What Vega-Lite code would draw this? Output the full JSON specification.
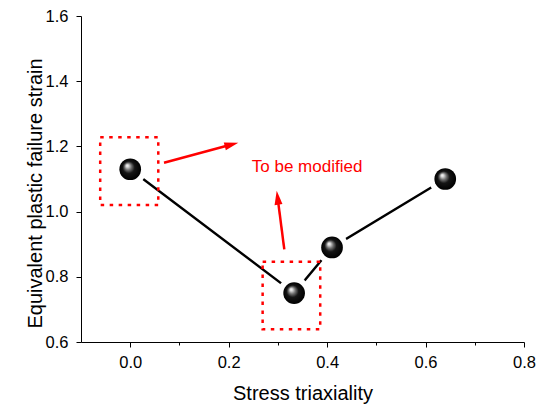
{
  "$schema": "https://vega.github.io/schema/vega-lite/v6.json",
  "width": 443,
  "height": 326,
  "autosize": "none",
  "padding": {"left": 81, "top": 16, "right": 19, "bottom": 64},
  "background": "white",
  "config": {
    "view": {"stroke": null},
    "axis": {
      "grid": false,
      "domainColor": "black",
      "tickColor": "black",
      "labelColor": "black",
      "titleColor": "black",
      "labelFont": "Liberation Sans",
      "titleFont": "Liberation Sans",
      "titleFontSize": 20,
      "titleFontWeight": "normal",
      "domainWidth": 1,
      "tickWidth": 1
    }
  },
  "datasets": {
    "points": [
      {"x": 0.0, "y": 1.13},
      {"x": 0.333, "y": 0.75},
      {"x": 0.41, "y": 0.89},
      {"x": 0.64, "y": 1.10}
    ],
    "boxes": [
      {"x": -0.061, "x2": 0.057, "y": 1.228, "y2": 1.02},
      {"x": 0.269, "x2": 0.386, "y": 0.846, "y2": 0.639}
    ],
    "arrows": [
      {"id": 1, "x": 0.0686, "y": 1.150, "xb": 0.204, "yb": 1.205, "xt": 0.2196, "yt": 1.211},
      {"id": 2, "x": 0.313, "y": 0.884, "xb": 0.2997, "yb": 1.040, "xt": 0.2976, "yt": 1.064}
    ],
    "labels": [
      {"x": 0.247, "y": 1.122, "text": "To be modified"}
    ]
  },
  "layer": [
    {
      "data": {"name": "points"},
      "mark": {"type": "line", "color": "black", "strokeWidth": 2.4},
      "encoding": {
        "x": {
          "field": "x", "type": "quantitative",
          "scale": {"domain": [-0.1, 0.8], "nice": false, "zero": false},
          "axis": {
            "title": "Stress triaxiality",
            "values": [0, 0.1, 0.2, 0.3, 0.4, 0.5, 0.6, 0.7, 0.8],
            "labelExpr": "round(datum.value*10) % 2 != 0 ? '' : format(datum.value, '.1f')",
            "tickSize": {"condition": {"test": "round(datum.value*10) % 2 != 0", "value": 3}, "value": 5},
            "labelFontSize": 16.5,
            "labelPadding": 7,
            "labelFlush": false,
            "labelOverlap": false,
            "titleY": 57,
            "titleBaseline": "alphabetic"
          }
        },
        "y": {
          "field": "y", "type": "quantitative",
          "scale": {"domain": [0.6, 1.6], "nice": false, "zero": false},
          "axis": {
            "title": "Equivalent plastic failure strain",
            "values": [0.6, 0.7, 0.8, 0.9, 1.0, 1.1, 1.2, 1.3, 1.4, 1.5, 1.6],
            "labelExpr": "round(datum.value*10) % 2 != 0 ? '' : format(datum.value, '.1f')",
            "tickSize": {"condition": {"test": "round(datum.value*10) % 2 != 0", "value": 3}, "value": 5},
            "labelFontSize": 16.5,
            "labelPadding": 8,
            "labelFlush": false,
            "labelOverlap": false,
            "titleX": -40,
            "titleY": 177,
            "titleBaseline": "alphabetic"
          }
        }
      }
    },
    {
      "data": {"name": "points"},
      "mark": {"type": "point", "shape": "circle", "filled": true, "fill": "white", "size": 1089, "opacity": 1, "strokeWidth": 0},
      "encoding": {
        "x": {"field": "x", "type": "quantitative"},
        "y": {"field": "y", "type": "quantitative"}
      }
    },
    {
      "data": {"name": "points"},
      "mark": {
        "type": "point", "shape": "circle", "filled": true, "size": 470, "opacity": 1, "strokeWidth": 0,
        "fill": {
          "gradient": "radial",
          "x1": 0.35, "y1": 0.32, "r1": 0,
          "x2": 0.5, "y2": 0.5, "r2": 0.5,
          "stops": [
            {"offset": 0, "color": "#ffffff"},
            {"offset": 0.12, "color": "#dcdcdc"},
            {"offset": 0.32, "color": "#707070"},
            {"offset": 0.55, "color": "#151515"},
            {"offset": 1, "color": "#000000"}
          ]
        }
      },
      "encoding": {
        "x": {"field": "x", "type": "quantitative"},
        "y": {"field": "y", "type": "quantitative"}
      }
    },
    {
      "data": {"name": "boxes"},
      "mark": {"type": "rect", "fill": "transparent", "stroke": "#ff0000", "strokeWidth": 2.5, "strokeDash": [3.5, 5.5], "strokeCap": "butt"},
      "encoding": {
        "x": {"field": "x", "type": "quantitative"},
        "x2": {"field": "x2"},
        "y": {"field": "y", "type": "quantitative"},
        "y2": {"field": "y2"}
      }
    },
    {
      "data": {"name": "arrows"},
      "mark": {"type": "rule", "color": "#ff0000", "strokeWidth": 2.5},
      "encoding": {
        "x": {"field": "x", "type": "quantitative"},
        "y": {"field": "y", "type": "quantitative"},
        "x2": {"field": "xb"},
        "y2": {"field": "yb"}
      }
    },
    {
      "data": {"name": "arrows"},
      "transform": [{"filter": "datum.id == 1"}],
      "mark": {"type": "point", "shape": "M0,0 L-2,-0.57 L-2,0.57 Z", "filled": true, "color": "#ff0000", "size": 196, "opacity": 1, "angle": 345},
      "encoding": {
        "x": {"field": "xt", "type": "quantitative"},
        "y": {"field": "yt", "type": "quantitative"}
      }
    },
    {
      "data": {"name": "arrows"},
      "transform": [{"filter": "datum.id == 2"}],
      "mark": {"type": "point", "shape": "M0,0 L-2,-0.57 L-2,0.57 Z", "filled": true, "color": "#ff0000", "size": 196, "opacity": 1, "angle": 262.6},
      "encoding": {
        "x": {"field": "xt", "type": "quantitative"},
        "y": {"field": "yt", "type": "quantitative"}
      }
    },
    {
      "data": {"name": "labels"},
      "mark": {"type": "text", "align": "left", "baseline": "alphabetic", "font": "Liberation Sans", "fontSize": 17, "color": "#ff0000"},
      "encoding": {
        "x": {"field": "x", "type": "quantitative"},
        "y": {"field": "y", "type": "quantitative"},
        "text": {"field": "text"}
      }
    }
  ]
}
